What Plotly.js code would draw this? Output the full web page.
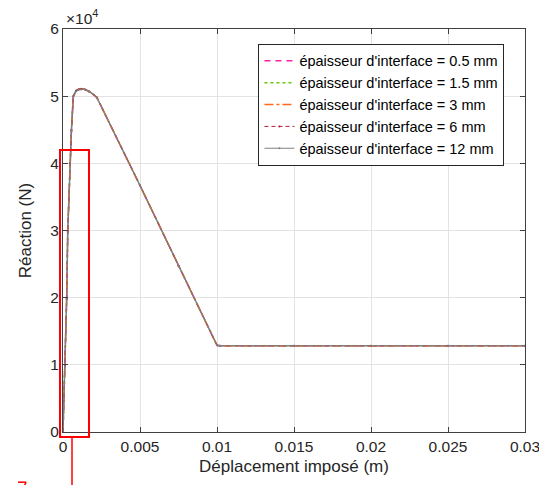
<!DOCTYPE html>
<html>
<head>
<meta charset="utf-8">
<script src="https://cdn.plot.ly/plotly-3.0.1.min.js"></script>
<style>html,body{margin:0;padding:0;background:#fff;}#chart{width:539px;height:485px;}</style>
</head>
<body>
<div id="chart"></div>
<script>
// Déplacement imposé (m)
const disp = [0, 0.00013, 0.00024, 0.00031, 0.00046, 0.00055, 0.00067, 0.00085, 0.0010, 0.0012, 0.00143, 0.0017, 0.0020, 0.0022, 0.0050, 0.0075, 0.0100, 0.0102, 0.0150, 0.0200, 0.0250, 0.0300];
// Réaction (N) for each interface thickness
const r05  = [0, 10000, 20000, 30000, 40000, 45000, 50000, 50800, 51000, 51100, 51000, 50700, 50200, 49800, 36700, 24700, 12900, 12850, 12850, 12850, 12850, 12850];
const r15  = [0, 10200, 20200, 30200, 40100, 45100, 50000, 50800, 51000, 51100, 51000, 50700, 50200, 49800, 36700, 24700, 12900, 12850, 12850, 12850, 12850, 12850];
const r3   = [0, 9800, 19800, 29800, 39900, 44900, 49900, 50700, 51000, 51100, 51000, 50700, 50200, 49800, 36700, 24700, 12900, 12850, 12850, 12850, 12850, 12850];
const r6   = [0, 9900, 19900, 29900, 40000, 45000, 50000, 50800, 51000, 51100, 51000, 50700, 50200, 49800, 36700, 24700, 12900, 12850, 12850, 12850, 12850, 12850];
const r12  = [0, 9700, 19700, 29700, 39800, 44800, 49900, 50700, 50900, 51000, 51000, 50700, 50200, 49800, 36700, 24700, 12900, 12850, 12850, 12850, 12850, 12850];
const rBase = [0, 10300, 20300, 30300, 40300, 45300, 50100, 50900, 51000, 51100, 51000, 50700, 50200, 49800, 36700, 24700, 12900, 12850, 12850, 12850, 12850, 12850];
const seriesNames = ["épaisseur d'interface = 0.5 mm", "épaisseur d'interface = 1.5 mm", "épaisseur d'interface = 3 mm", "épaisseur d'interface = 6 mm", "épaisseur d'interface = 12 mm"];
const xTickVals = [0, 0.005, 0.01, 0.015, 0.02, 0.025, 0.03];
const xTickText = ["0", "0.005", "0.01", "0.015", "0.02", "0.025", "0.03"];
const yTickVals = [0, 10000, 20000, 30000, 40000, 50000, 60000];
const yTickText = ["0", "1", "2", "3", "4", "5", "6"];

const traces = [
  {x: disp, y: rBase, mode: 'lines', line: {color: '#4db3e6', width: 1.5}, showlegend: false, hoverinfo: 'skip'},
  {x: disp, y: r05, name: seriesNames[0], mode: 'lines', line: {color: '#ff1fa6', width: 1.5, dash: '6px,5px'}},
  {x: disp, y: r15, name: seriesNames[1], mode: 'lines', line: {color: '#66cc00', width: 1.5, dash: 'dot'}},
  {x: disp, y: r3, name: seriesNames[2], mode: 'lines', line: {color: '#ff6a1a', width: 1.5, dash: 'dashdot'}},
  {x: disp, y: r6, name: seriesNames[3], mode: 'lines+markers', line: {color: '#b81e3a', width: 1, dash: '4px,3px'}, marker: {size: 2, color: '#b81e3a'}},
  {x: disp, y: r12, name: seriesNames[4], mode: 'lines+markers', line: {color: '#808080', width: 1}, marker: {size: 2, color: '#808080'}}
];

const axisCommon = {
  showline: true, linecolor: '#404040', linewidth: 1, mirror: 'ticks',
  ticks: 'inside', ticklen: 5, tickcolor: '#404040',
  showgrid: true, gridcolor: '#e3e3e3', gridwidth: 1, zeroline: false,
  ticklabeloverflow: 'allow',
  tickfont: {size: 15.5, color: '#262626', family: 'Liberation Sans, Arial, sans-serif'}
};

const layout = {
  width: 539, height: 485,
  margin: {l: 63, r: 14, t: 29, b: 53},
  paper_bgcolor: '#ffffff', plot_bgcolor: '#ffffff',
  font: {family: 'Liberation Sans, Arial, sans-serif', color: '#262626', size: 15},
  xaxis: Object.assign({}, axisCommon, {
    range: [0, 0.03], tickvals: xTickVals, ticktext: xTickText,
    title: {text: 'Déplacement imposé (m)', font: {size: 17, color: '#262626'}, standoff: 6}
  }),
  yaxis: Object.assign({}, axisCommon, {
    range: [0, 60000], tickvals: yTickVals, ticktext: yTickText,
    title: {text: 'Réaction (N)', font: {size: 17, color: '#262626'}, standoff: 14}
  }),
  legend: {
    x: 0.423, y: 0.963, xanchor: 'left', yanchor: 'top',
    bgcolor: '#ffffff', bordercolor: '#262626', borderwidth: 1,
    font: {size: 14.5, color: '#000000'}, tracegroupgap: 0
  },
  annotations: [
    {xref: 'paper', yref: 'paper', x: 0, y: 1, xanchor: 'left', yanchor: 'bottom', showarrow: false,
     text: '×10<sup>4</sup>', font: {size: 15.5, color: '#262626'}, xshift: 1, yshift: 0}
  ],
  shapes: [
    {type: 'rect', xref: 'paper', yref: 'paper', x0: -0.0065, x1: 0.0563, y0: -0.0124, y1: 0.6998,
     line: {color: '#ff0000', width: 2}, fillcolor: 'rgba(0,0,0,0)'},
    {type: 'line', xref: 'paper', yref: 'paper', x0: 0.0195, x1: 0.0195, y0: -0.0124, y1: -0.14,
     line: {color: '#ff0000', width: 1.5}},
    {type: 'line', xref: 'paper', yref: 'paper', x0: -0.0974, x1: -0.080, y0: -0.1245, y1: -0.1245,
     line: {color: '#ff0000', width: 1.5}},
    {type: 'line', xref: 'paper', yref: 'paper', x0: -0.080, x1: -0.084, y0: -0.1245, y1: -0.135,
     line: {color: '#ff0000', width: 1.5}}
  ]
};

Plotly.newPlot('chart', traces, layout, {displayModeBar: false, staticPlot: true});
</script>
</body>
</html>
